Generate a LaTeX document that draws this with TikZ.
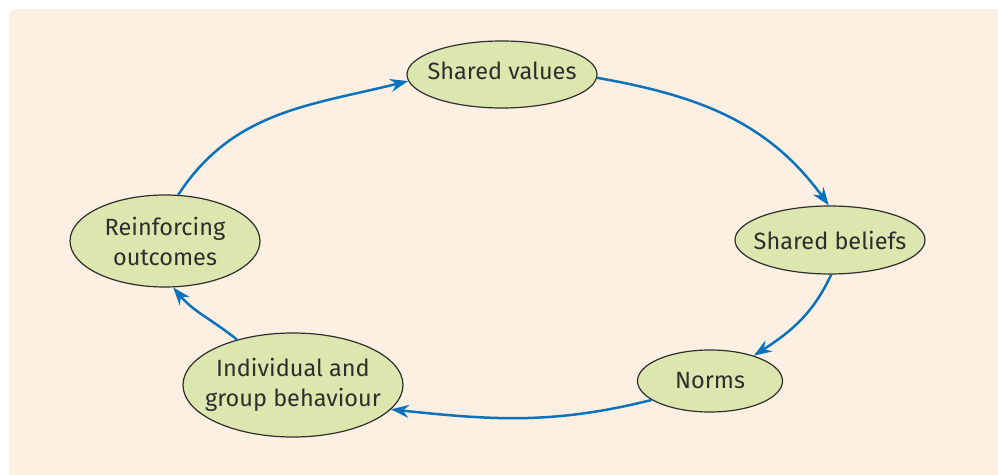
\documentclass[tikz,border=0pt]{standalone}
\usepackage{fontspec}
\setmainfont{Fira Sans}
\usetikzlibrary{shapes.geometric,arrows.meta}
\definecolor{panel}{HTML}{FDF0E2}
\definecolor{bubble}{HTML}{DCE7AF}
\definecolor{flow}{HTML}{0B72BC}
\definecolor{ink}{HTML}{2E2E2E}
\begin{document}
\begin{tikzpicture}[x=1pt,y=1pt,
  stage/.style={ellipse, draw=ink, line width=1.2pt, fill=bubble, text=ink,
    inner sep=-12pt, align=center, font=\fontsize{23.5}{30}\selectfont},
  loopline/.style={draw=flow, line width=2.5pt,
    -{Stealth[length=18pt,width=13pt,inset=6pt]}}]
\useasboundingbox (0,0) rectangle (998,474);
\clip (0,0) rectangle (998,474);
% background panel
\fill[panel, rounded corners=7pt] (9,-20) rectangle (1020,465);

% stages of the cycle
\node[stage, minimum width=190pt, minimum height=67pt, text depth=8pt] (sv) at (502,399.5) {Shared values};
\node[stage, minimum width=190pt, minimum height=68pt] (sb) at (830,234) {Shared beliefs};
\node[stage, minimum width=145pt, minimum height=62pt] (nm) at (710,93) {Norms};
\node[stage, minimum width=220pt, minimum height=104pt] (ig) at (293,89) {Individual and\\group behaviour};
\node[stage, minimum width=190pt, minimum height=92pt] (ro) at (165,233) {Reinforcing\\outcomes};

% connectors
\draw[loopline] (ro.74) to[out=57, in=194] (sv.184);
\draw[loopline] (sv.-2) to[out=-10, in=126] (sb.92);
\draw[loopline] (sb.-88) to[out=-115, in=33] (nm.30);
\draw[loopline] (nm.198) to[out=194, in=-6] (ig.-14);
\draw[loopline] (ig.141) to[out=141, in=-50] (ro.-80);
\end{tikzpicture}
\end{document}
